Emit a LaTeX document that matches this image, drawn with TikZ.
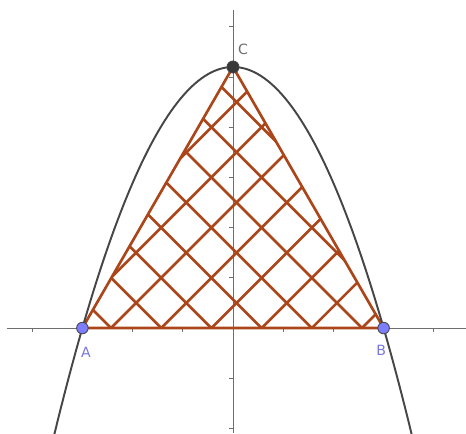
\documentclass[tikz,border=0pt]{standalone}
\usepackage{fontspec}
\setmainfont{DejaVu Sans}
\usepackage{xcolor}
\usetikzlibrary{positioning}
\definecolor{hatchbrown}{RGB}{170,70,25}
\definecolor{curvegray}{RGB}{70,70,70}
\definecolor{axisgray}{RGB}{110,110,110}
\definecolor{ptblue}{RGB}{125,125,255}
\definecolor{lblblue}{RGB}{120,120,220}
\tikzset{
  axis/.style={draw=axisgray, line width=0.5pt},
  tick/.style={draw=axisgray, line width=0.45pt},
  curve/.style={draw=curvegray, line width=1.1pt},
  hatch/.style={draw=hatchbrown, line width=1.5pt},
  edge/.style={draw=hatchbrown, line width=1.5pt, line join=round},
  pointfree/.style={circle, draw=curvegray, line width=0.5pt, fill=ptblue, inner sep=0pt, minimum size=0.23cm},
  pointfix/.style={circle, draw=curvegray, line width=0.5pt, fill=curvegray!80!black, inner sep=0pt, minimum size=0.24cm},
  lbl/.style={font=\fontsize{8}{9}\selectfont, inner sep=0pt}
}

\begin{document}
\begin{tikzpicture}
  \useasboundingbox (-4.641,-2.092) rectangle (4.641,6.534);
  % axes
  \draw[axis] (-4.5,0) -- (4.641,0);
  \draw[axis] (0,-2.092) -- (0,6.33);
  \foreach \x in {-4,...,4} \draw[tick] (\x,0) -- (\x,-0.07);
  \foreach \y in {-2,-1,1,2,3,4,5,6} \draw[tick] (0,\y) -- (-0.07,\y);

  \coordinate (A) at (-3,0);
  \coordinate (B) at (3,0);
  \coordinate (C) at (0,5.2);

  % hatching inside the triangle
  \begin{scope}
    \clip (A) -- (B) -- (C) -- cycle;
    \foreach \k in {-6,...,8} {
      \pgfmathsetmacro{\c}{-2.43+\k}
      \draw[hatch] (\c-7,-7) -- (\c+7,7);
      \draw[hatch] (\c-7,7) -- (\c+7,-7);
    }
  \end{scope}
  \draw[edge] (A) -- (B) -- (C) -- cycle;

  % parabola
  \draw[curve, domain=-3.56:3.56, samples=120] plot (\x,{5.2*(1-\x*\x/9)});

  % points
  \node[pointfree] (pA) at (A) {};
  \node[pointfree] (pB) at (B) {};
  \node[pointfix] (pC) at (C) {};
  \node[lbl, text=lblblue] (lA) at (-2.93,-0.48) {A};
  \node[lbl, text=lblblue] (lB) at (2.95,-0.45) {B};
  \node[lbl, text=axisgray] (lC) at (0.2,5.56) {C};
\end{tikzpicture}
\end{document}
